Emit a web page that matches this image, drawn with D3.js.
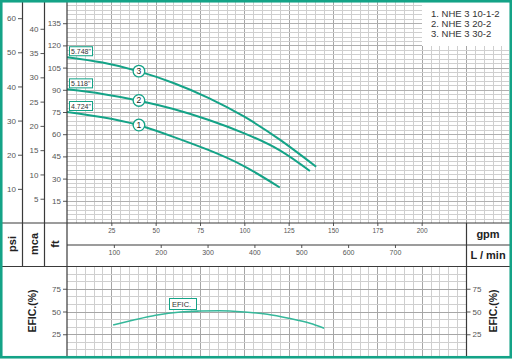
<!DOCTYPE html>
<html>
<head>
<meta charset="utf-8">
<script src="https://cdn.jsdelivr.net/npm/d3@7"></script>
<style>
body { margin: 0; background: #fff; }
svg { display: block; font-family: "Liberation Sans", Arial, sans-serif; }
</style>
</head>
<body>
<script>
// tick labels
var gpmTicks = [25, 50, 75, 100, 125, 150, 175, 200];
var lpmTicks = [100, 200, 300, 400, 500, 600, 700];
var ftTicks = [15, 30, 45, 60, 75, 90, 105, 120, 135];
var mcaTicks = [5, 10, 15, 20, 25, 30, 35, 40];
var psiTicks = [10, 20, 30, 40, 50, 60];
var effTicks = [25, 50, 75];

// pump curves (gpm -> ft)
var curve1Gpm = [0, 20, 40, 60, 80, 100, 120];
var curve1Ft = [75, 71.4, 66.2, 58.2, 49.2, 38.3, 24.0];
var curve2Gpm = [0, 20, 40, 60, 80, 100, 120, 137];
var curve2Ft = [90.3, 87.2, 82.8, 77.0, 69.6, 60.6, 49.1, 35.1];
var curve3Gpm = [0, 20, 40, 60, 80, 100, 120, 140.5];
var curve3Ft = [112, 108.4, 102.6, 94.6, 84.4, 71.8, 56.3, 38];
var curveNames = ["1", "2", "3"];
var diameters = ['4.724"', '5.118"', '5.748"'];
var models = ["1. NHE 3 10-1-2", "2. NHE 3 20-2", "3. NHE 3 30-2"];

// efficiency (gpm -> %)
var effGpm = [26, 37, 50, 64, 75, 86, 100, 113, 125, 137, 145];
var effVal = [35.2, 40.3, 45.8, 49.5, 50.5, 50.9, 49.5, 46.9, 42.5, 37, 31.5];

var W = 512, H = 359;
var green = "#14a387";
var frame = "#3a3a3a";

var svg = d3.select("body").append("svg")
  .attr("width", W)
  .attr("height", H);

svg.append("rect").attr("width", W).attr("height", H).attr("fill", "#fff");

// scales
var x = d3.scaleLinear().domain([0, 225]).range([67, 466]);
var xL = d3.scaleLinear().domain([0, 225 * 3.785]).range([67, 466]);
var ft = d3.scaleLinear().domain([0, 150]).range([223, 1]);
var mca = d3.scaleLinear().domain([0, 150 / 3.2808]).range([223, 1]);
var psi = d3.scaleLinear().domain([0, 150 / 2.3067]).range([223, 1]);
var eff = d3.scaleLinear().domain([0, 100]).range([357, 266]);

// top grid
var grid = svg.append("g").attr("shape-rendering", "crispEdges");
d3.range(5, 250, 5).forEach(function(g) {
  if (x(g) > 509) return;
  grid.append("line")
    .attr("x1", Math.round(x(g)) + 0.5).attr("x2", Math.round(x(g)) + 0.5)
    .attr("y1", 2).attr("y2", 223)
    .attr("stroke", g % 25 == 0 ? "#a6a6a6" : "#cfcfcf");
});
d3.range(3, 150, 3).forEach(function(f) {
  grid.append("line")
    .attr("x1", 67).attr("x2", 509)
    .attr("y1", Math.round(ft(f)) + 0.5).attr("y2", Math.round(ft(f)) + 0.5)
    .attr("stroke", f % 15 == 0 ? "#b0b0b0" : "#cfcfcf");
});

// bottom grid
d3.range(5, 225, 5).forEach(function(g) {
  grid.append("line")
    .attr("x1", Math.round(x(g)) + 0.5).attr("x2", Math.round(x(g)) + 0.5)
    .attr("y1", 267).attr("y2", 357)
    .attr("stroke", g % 25 == 0 ? "#a6a6a6" : "#cfcfcf");
});
d3.range(1, 12).forEach(function(i) {
  var e = i * 25 / 3;
  grid.append("line")
    .attr("x1", 67).attr("x2", 466)
    .attr("y1", Math.round(eff(e)) + 0.5).attr("y2", Math.round(eff(e)) + 0.5)
    .attr("stroke", i % 3 == 0 ? "#a6a6a6" : "#cfcfcf");
});

// legend box
svg.append("rect")
  .attr("x", 422).attr("y", 2).attr("width", 88).attr("height", 44)
  .attr("fill", "#fff");
svg.selectAll(".model").data(models).enter().append("text")
  .attr("x", 431)
  .attr("y", function(d, i) { return 16.5 + i * 10; })
  .attr("font-size", "9.5px")
  .attr("fill", "#333")
  .text(function(d) { return d; });

// pump curves
var line = d3.line()
  .x(function(d) { return x(d[0]); })
  .y(function(d) { return ft(d[1]); })
  .curve(d3.curveNatural);

var curves = [
  d3.zip(curve1Gpm, curve1Ft),
  d3.zip(curve2Gpm, curve2Ft),
  d3.zip(curve3Gpm, curve3Ft)
];

svg.selectAll(".curve").data(curves).enter().append("path")
  .attr("d", line)
  .attr("fill", "none")
  .attr("stroke", green)
  .attr("stroke-width", 2);

// numbered circles on the curves
curves.forEach(function(c, i) {
  var p = c[2];
  svg.append("circle")
    .attr("cx", x(p[0]) + 1).attr("cy", ft(p[1]))
    .attr("r", 5.8)
    .attr("fill", "#fff")
    .attr("stroke", green)
    .attr("stroke-width", 1.3);
  svg.append("text")
    .attr("x", x(p[0]) + 1).attr("y", ft(p[1]) + 3)
    .attr("text-anchor", "middle")
    .attr("font-size", "8.5px")
    .attr("fill", "#222")
    .text(curveNames[i]);
});

// impeller diameter labels
curves.forEach(function(c, i) {
  var y0 = ft(c[0][1]);
  svg.append("rect")
    .attr("x", 69.5).attr("y", y0 - 10.5)
    .attr("width", 23).attr("height", 9)
    .attr("fill", "#fff")
    .attr("stroke", green)
    .attr("stroke-width", 1);
  svg.append("text")
    .attr("x", 71).attr("y", y0 - 3.5)
    .attr("font-size", "7px")
    .attr("fill", "#333")
    .text(diameters[i]);
});

// efficiency curve
var effLine = d3.line()
  .x(function(d) { return x(d[0]); })
  .y(function(d) { return eff(d[1]); })
  .curve(d3.curveMonotoneX);

svg.append("path")
  .datum(d3.zip(effGpm, effVal))
  .attr("d", effLine)
  .attr("fill", "none")
  .attr("stroke", "#36b89b")
  .attr("stroke-width", 1.6);

svg.append("rect")
  .attr("x", 169.5).attr("y", 298.5)
  .attr("width", 27).attr("height", 11)
  .attr("fill", "#fff")
  .attr("stroke", green);
svg.append("text")
  .attr("x", 172).attr("y", 307)
  .attr("font-size", "7.5px")
  .attr("fill", "#333")
  .text("EFIC.");

// axes
function styleAxis(g, size) {
  g.select(".domain").remove();
  g.selectAll(".tick line").attr("stroke", "#555");
  g.selectAll(".tick text")
    .attr("fill", "#555")
    .style("font-size", size)
    .style("font-family", '"Liberation Sans", Arial, sans-serif');
}

svg.append("g").attr("transform", "translate(22,0)")
  .call(d3.axisLeft(psi).tickValues(psiTicks).tickSize(4).tickPadding(2))
  .call(styleAxis, "8px");
svg.append("g").attr("transform", "translate(44.5,0)")
  .call(d3.axisLeft(mca).tickValues(mcaTicks).tickSize(4).tickPadding(2))
  .call(styleAxis, "8px");
svg.append("g").attr("transform", "translate(67,0)")
  .call(d3.axisLeft(ft).tickValues(ftTicks).tickSize(4).tickPadding(2))
  .call(styleAxis, "8px");

svg.append("g").attr("transform", "translate(0,223)")
  .call(d3.axisBottom(x).tickValues(gpmTicks).tickSize(3).tickPadding(2))
  .call(styleAxis, "6.5px");
svg.append("g").attr("transform", "translate(0,245)")
  .call(d3.axisBottom(xL).tickValues(lpmTicks).tickSize(3).tickPadding(2))
  .call(styleAxis, "7px");

svg.append("g").attr("transform", "translate(67,0)")
  .call(d3.axisLeft(eff).tickValues(effTicks).tickSize(4).tickPadding(2))
  .call(styleAxis, "8px");
svg.append("g").attr("transform", "translate(466.5,0)")
  .call(d3.axisRight(eff).tickValues(effTicks).tickSize(4).tickPadding(2))
  .call(styleAxis, "8px");

// frame lines
var frames = [
  [22.5, 2, 22.5, 266.5],
  [44.5, 2, 44.5, 266.5],
  [67, 2, 67, 357],
  [466.5, 223, 466.5, 357],
  [2, 223, 510, 223],
  [67, 245, 510, 245],
  [2, 266.5, 510, 266.5]
];
svg.selectAll(".frame").data(frames).enter().append("line")
  .attr("x1", function(d) { return d[0]; })
  .attr("y1", function(d) { return d[1]; })
  .attr("x2", function(d) { return d[2]; })
  .attr("y2", function(d) { return d[3]; })
  .attr("stroke", frame)
  .attr("stroke-width", 1.2);

// unit labels
function vLabel(tx, ty, txt, size) {
  svg.append("text")
    .attr("transform", "translate(" + tx + "," + ty + ") rotate(-90)")
    .attr("text-anchor", "middle")
    .attr("font-size", size)
    .attr("font-weight", "bold")
    .attr("fill", "#222")
    .text(txt);
}
vLabel(15.5, 244, "psi", "11px");
vLabel(37.5, 244, "mca", "11px");
vLabel(59, 244, "ft", "11px");
vLabel(35.5, 311, "EFIC.(%)", "10.5px");
vLabel(497, 311, "EFIC.(%)", "10.5px");

svg.append("text")
  .attr("x", 488).attr("y", 237.5)
  .attr("text-anchor", "middle")
  .attr("font-size", "11px").attr("font-weight", "bold").attr("fill", "#222")
  .text("gpm");
svg.append("text")
  .attr("x", 488).attr("y", 259)
  .attr("text-anchor", "middle")
  .attr("font-size", "11px").attr("font-weight", "bold").attr("fill", "#222")
  .text("L / min");

// green outer border
svg.append("rect")
  .attr("x", 1.25).attr("y", 1.25)
  .attr("width", 509.5).attr("height", 356)
  .attr("fill", "none")
  .attr("stroke", green)
  .attr("stroke-width", 2.6);
</script>
</body>
</html>
